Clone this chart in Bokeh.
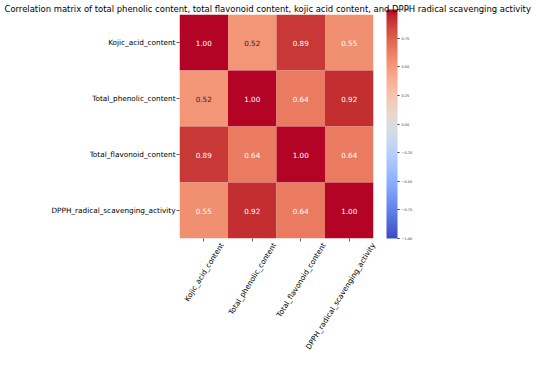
import math
import numpy as np
from bokeh.plotting import figure
from bokeh.models import (ColumnDataSource, LinearColorMapper, ColorBar,
                          FixedTicker, NumeralTickFormatter, Range1d, LinearAxis)
from bokeh.core.properties import value
from bokeh.embed import file_html
from bokeh.resources import INLINE

# ---------------- data ----------------
title_text = ("Correlation matrix of total phenolic content, total flavonoid content, "
              "kojic acid content, and DPPH radical scavenging activity")
variables = ["Kojic_acid_content", "Total_phenolic_content",
             "Total_flavonoid_content", "DPPH_radical_scavenging_activity"]
row_kojic = [1.00, 0.52, 0.89, 0.55]
row_phenolic = [0.52, 1.00, 0.64, 0.92]
row_flavonoid = [0.89, 0.64, 1.00, 0.64]
row_dpph = [0.55, 0.92, 0.64, 1.00]
rows = [row_kojic, row_phenolic, row_flavonoid, row_dpph]
colorbar_ticks = [-1.0, -0.75, -0.5, -0.25, 0.0, 0.25, 0.5, 0.75, 1.0]
colorbar_labels = ["\u22121.00", "\u22120.75", "\u22120.50", "\u22120.25",
                   "0.00", "0.25", "0.50", "0.75", "1.00"]

# ---------------- coolwarm palette (style) ----------------
_cw = np.array([
    (0.2298057, 0.298717966, 0.753683153), (0.26623388, 0.353094838, 0.801466763),
    (0.30386891, 0.406535296, 0.84495867), (0.342804478, 0.458757618, 0.883725899),
    (0.38301334, 0.50941904, 0.917387822), (0.424369608, 0.558148092, 0.945619588),
    (0.46666708, 0.604562568, 0.968154911), (0.509635204, 0.648280772, 0.98478814),
    (0.552953156, 0.688929332, 0.995375608), (0.596262162, 0.726149107, 0.999836203),
    (0.639176211, 0.759599947, 0.998151185), (0.681291281, 0.788964712, 0.990363227),
    (0.722193294, 0.813952739, 0.976574709), (0.761464949, 0.834302879, 0.956945269),
    (0.798691636, 0.849786142, 0.931688648), (0.833466556, 0.860207984, 0.901068838),
    (0.865395197, 0.86541021, 0.865395561), (0.897787179, 0.848937047, 0.820880546),
    (0.924127593, 0.827384882, 0.774508472), (0.944468518, 0.800927443, 0.726736146),
    (0.958852946, 0.769767752, 0.678007945), (0.96732803, 0.734132809, 0.628751763),
    (0.969954137, 0.694266682, 0.579375448), (0.966811177, 0.650421156, 0.530263762),
    (0.958003065, 0.602842431, 0.481775914), (0.943660866, 0.551750968, 0.434243684),
    (0.923944917, 0.49730856, 0.387970225), (0.89904617, 0.439559467, 0.343229596),
    (0.869186849, 0.378313092, 0.300267182), (0.834620542, 0.312874446, 0.259301199),
    (0.795631745, 0.24128379, 0.220525627), (0.752534934, 0.157246067, 0.184115123),
    (0.705673158, 0.01555616, 0.150232812)])
_pos = np.linspace(0, 1, len(_cw))


def cw_rgb(t):
    return np.array([np.interp(t, _pos, _cw[:, k]) for k in range(3)])


def to_hex(rgb):
    r, g, b = (int(round(c * 255)) for c in rgb)
    return "#%02x%02x%02x" % (r, g, b)


palette = [to_hex(cw_rgb(t)) for t in np.linspace(0, 1, 256)]


def text_color(v):
    rgb = cw_rgb((v + 1) / 2)
    lin = np.where(rgb <= 0.03928, rgb / 12.92, ((rgb + 0.055) / 1.055) ** 2.4)
    lum = 0.2126 * lin[0] + 0.7152 * lin[1] + 0.0722 * lin[2]
    return "#ffffff" if lum < 0.408 else "#262626"


n = len(variables)
centers = [i + 0.5 for i in range(n)]          # cell centres on the index axis
xs, ys, vals, labels, tcols = [], [], [], [], []
for r, row in enumerate(rows):
    for c, v in enumerate(row):
        xs.append(centers[c])
        ys.append(centers[r])
        vals.append(v)
        labels.append("%.2f" % v)
        tcols.append(text_color(v))
src = ColumnDataSource(dict(x=xs, y=ys, v=vals, label=labels, tc=tcols))

mapper = LinearColorMapper(palette=palette, low=-1, high=1)

FONT = "DejaVu Sans"
LABEL_PX = 7.3
p = figure(width=534, height=356, output_backend="svg", toolbar_location=None,
           x_range=Range1d(0, n), y_range=Range1d(n, 0),
           min_border_left=179, min_border_right=161, min_border_bottom=113,
           min_border_top=14)
p.title.text = title_text
p.title.text_font = FONT
p.title.text_font_size = "8.45px"
p.title.text_font_style = "normal"
p.title.text_color = "#000000"
p.title.align = "left"
p.title.offset = -175
p.title.standoff = 1

p.rect(x="x", y="y", width=1, height=1, source=src,
       fill_color={"field": "v", "transform": mapper}, line_color=None)
p.text(x="x", y="y", text="label", source=src, text_color="tc",
       text_align="center", text_baseline="middle",
       text_font=value(FONT), text_font_size="7.2px")

p.outline_line_color = None
p.grid.grid_line_color = None
for ax in (p.xaxis[0], p.yaxis[0]):
    ax.ticker = FixedTicker(ticks=centers)
    ax.axis_line_color = None
    ax.major_tick_in = 0
    ax.major_tick_out = 3
    ax.major_tick_line_color = "#333333"
    ax.major_tick_line_width = 0.8
    ax.minor_tick_line_color = None
    ax.major_label_text_font = FONT
    ax.major_label_text_font_size = "%.1fpx" % LABEL_PX
    ax.major_label_text_color = "#000000"
    ax.major_label_standoff = 1
p.yaxis[0].major_label_overrides = {c: name for c, name in zip(centers, variables)}
# the bottom axis keeps only its ticks; the rotated names are drawn by a
# second axis whose ticks sit where matplotlib-style centred labels end
p.xaxis[0].major_label_overrides = {c: "" for c in centers}
p.xaxis[0].major_label_text_font_size = "0px"
p.xaxis[0].major_label_standoff = 0

theta = math.radians(58)
char_w = 3.8
cell_px = 194 / n
label_ticks, label_over = [], {}
for c, name in zip(centers, variables):
    L = len(name) * char_w
    half_w = (L * math.cos(theta) + LABEL_PX * math.sin(theta)) / 2
    t = round(min(c + (half_w - 3) / cell_px, n - 0.002), 3)
    label_ticks.append(t)
    label_over[t] = name
lab_axis = LinearAxis(ticker=FixedTicker(ticks=label_ticks),
                      major_label_overrides=label_over,
                      major_label_orientation=theta,
                      major_label_text_font=FONT,
                      major_label_text_font_size="%.1fpx" % LABEL_PX,
                      major_label_text_color="#000000",
                      major_label_standoff=2,
                      axis_line_color=None, major_tick_line_color=None,
                      minor_tick_line_color=None, major_tick_in=0, major_tick_out=0)
p.add_layout(lab_axis, "below")

cb = ColorBar(color_mapper=mapper, width=11, height=229,
              ticker=FixedTicker(ticks=colorbar_ticks),
              formatter=NumeralTickFormatter(format="0.00"),
              major_label_overrides={t: s for t, s in zip(colorbar_ticks, colorbar_labels)},
              major_label_text_font=FONT, major_label_text_font_size="3.5px",
              major_label_text_color="#333333",
              major_tick_in=0, major_tick_out=2, major_tick_line_color="#333333",
              minor_tick_line_color=None, bar_line_color=None,
              background_fill_alpha=0, padding=0, margin=0,
              label_standoff=2, location=(13, 0))
p.add_layout(cb, "right")

open("out.html", "w").write(file_html(p, INLINE))
